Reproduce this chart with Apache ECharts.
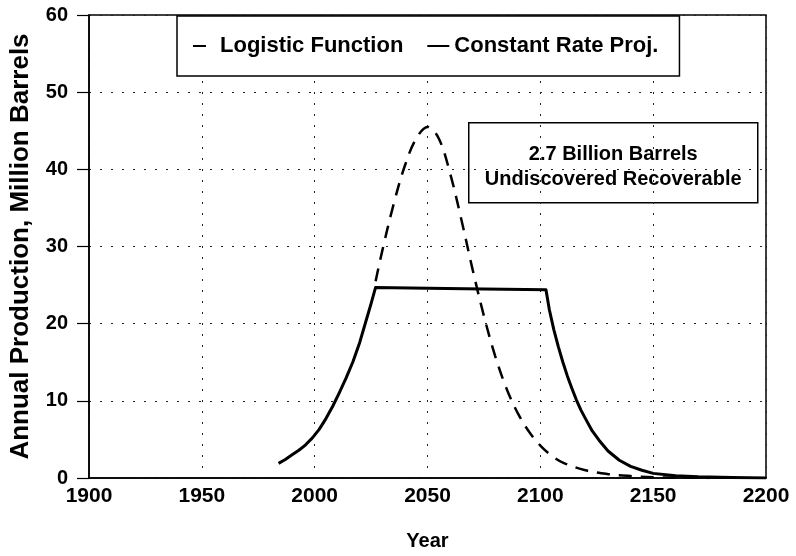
<!DOCTYPE html>
<html>
<head>
<meta charset="utf-8">
<script src="https://cdn.jsdelivr.net/npm/echarts@6/dist/echarts.min.js"></script>
<style>
html,body{margin:0;padding:0;background:#fff;}
#chart{width:796px;height:556px;}
</style>
</head>
<body>
<div id="chart"></div>
<script>
// Tick labels / axis ranges
var xTicks = [1900, 1950, 2000, 2050, 2100, 2150, 2200];
var yTicks = [0, 10, 20, 30, 40, 50, 60];

// Logistic function (dashed)
var logisticYears  = [2027, 2030, 2035, 2040, 2045, 2050, 2055, 2060, 2065, 2070, 2075, 2080, 2085, 2090, 2095, 2100, 2105, 2110, 2120, 2130, 2140, 2150, 2160, 2175];
var logisticValues = [25.5, 29.5, 35.5, 40.5, 44.0, 45.5, 44.0, 39.5, 33.5, 27.0, 21.0, 15.8, 11.6, 8.4, 6.0, 4.2, 2.9, 2.0, 1.0, 0.5, 0.25, 0.1, 0.05, 0.0];

// Constant rate projection (solid)
var constantYears  = [1984, 1987, 1990, 1993, 1996, 1999, 2002, 2005, 2008, 2011, 2014, 2017, 2020, 2023, 2025, 2027,
                      2050, 2075, 2102.5, 2104, 2106, 2108, 2110, 2112, 2114, 2116, 2118, 2120, 2123, 2126, 2130, 2135, 2140, 2145, 2150, 2160, 2170, 2185, 2200];
var constantValues = [1.9, 2.4, 3.0, 3.6, 4.3, 5.2, 6.3, 7.7, 9.3, 11.1, 13.0, 15.1, 17.6, 20.6, 22.6, 24.7,
                      24.6, 24.5, 24.4, 21.8, 19.2, 17.0, 15.0, 13.2, 11.6, 10.1, 8.8, 7.7, 6.1, 4.9, 3.5, 2.3, 1.5, 1.0, 0.6, 0.3, 0.15, 0.05, 0.0];

var seriesNames = ['Logistic Function', 'Constant Rate Proj.'];
var noteLines = ['2.7 Billion Barrels', 'Undiscovered Recoverable'];

function zip(xs, ys) { return xs.map(function (x, i) { return [x, ys[i]]; }); }

var FONT = '"Liberation Sans", Arial, sans-serif';
var chart = echarts.init(document.getElementById('chart'), null, {renderer: 'canvas'});

chart.setOption({
  backgroundColor: '#fff',
  animation: false,
  grid: {left: 85, right: 30, top: 15, bottom: 74, show: true, borderColor: '#000', borderWidth: 1.5},
  legend: {
    left: 177, top: 16,
    padding: [19, 21, 19, 15],
    itemGap: 23,
    itemWidth: 22, itemHeight: 14,
    borderColor: '#000', borderWidth: 1.5,
    backgroundColor: '#fff',
    itemStyle: {opacity: 0},
    textStyle: {fontFamily: FONT, fontWeight: 'bold', fontSize: 22, color: '#000'},
    data: seriesNames
  },
  xAxis: {
    type: 'value', min: xTicks[0], max: xTicks[xTicks.length - 1], interval: 50,
    name: 'Year', nameLocation: 'middle', nameGap: 53,
    nameTextStyle: {fontFamily: FONT, fontWeight: 'bold', fontSize: 20, color: '#000'},
    axisLine: {show: true, lineStyle: {color: '#000', width: 1.5}},
    axisTick: {show: false},
    axisLabel: {fontFamily: FONT, fontWeight: 'bold', fontSize: 21, color: '#000', margin: 8,
      formatter: function (v) { return String(v); }},
    splitLine: {show: true, lineStyle: {color: '#222', width: 1, type: [2, 9]}}
  },
  yAxis: {
    type: 'value', min: yTicks[0], max: yTicks[yTicks.length - 1], interval: 10,
    name: 'Annual Production, Million Barrels', nameLocation: 'middle', nameGap: 55,
    nameTextStyle: {fontFamily: FONT, fontWeight: 'bold', fontSize: 26, color: '#000'},
    axisLine: {show: true, lineStyle: {color: '#000', width: 1.5}},
    axisTick: {show: true, inside: false, length: 12, lineStyle: {color: '#000', width: 1.2}},
    axisLabel: {fontFamily: FONT, fontWeight: 'bold', fontSize: 20, color: '#000', margin: 21},
    splitLine: {show: true, lineStyle: {color: '#222', width: 1, type: [2, 9]}}
  },
  graphic: [{
    type: 'group', left: 468, top: 122, z: 100,
    children: [
      {type: 'rect', shape: {x: 0, y: 0, width: 289, height: 80},
       style: {fill: '#fff', stroke: '#000', lineWidth: 1.5}},
      {type: 'text', x: 144.5, y: 32,
       style: {text: noteLines[0], fontFamily: FONT, fontWeight: 'bold', fontSize: 20, fill: '#000', align: 'center', verticalAlign: 'middle'}},
      {type: 'text', x: 144.5, y: 57,
       style: {text: noteLines[1], fontFamily: FONT, fontWeight: 'bold', fontSize: 20, fill: '#000', align: 'center', verticalAlign: 'middle'}}
    ]
  }],
  series: [
    {
      name: seriesNames[0], type: 'line', data: zip(logisticYears, logisticValues),
      symbol: 'none', smooth: 0.35,
      lineStyle: {color: '#000', width: 2.5, type: [13, 9]},
      itemStyle: {color: '#000'}, z: 3
    },
    {
      name: seriesNames[1], type: 'line', data: zip(constantYears, constantValues),
      symbol: 'none', smooth: false,
      lineStyle: {color: '#000', width: 3, type: 'solid', join: 'round'},
      itemStyle: {color: '#000'}, z: 4
    }
  ]
});
</script>
</body>
</html>
